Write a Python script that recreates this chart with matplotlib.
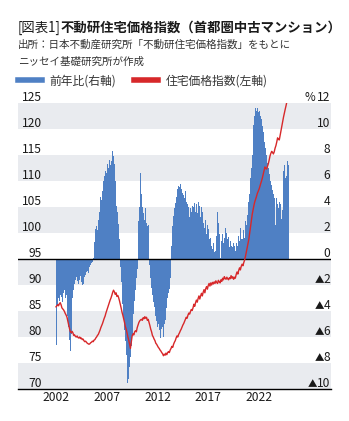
import matplotlib
matplotlib.use("Agg")
import matplotlib.pyplot as plt
from matplotlib.lines import Line2D
import matplotlib.transforms as mtransforms
import numpy as np

plt.rcParams['font.family'] = ['Noto Sans CJK JP', 'DejaVu Sans']

# ---------------- data (monthly, 2002-01 .. 2024-12) ----------------
year_ticks = ["2002", "2007", "2012", "2017", "2022"]

# 前年比 (%), right axis
yoy = [
    -7.4, -6.6, -3.6, -3.0, -3.2, -2.8, -3.1, -2.9, -3.3, -2.6, -2.4, -3.0,   # 2002
    -2.8, -3.5, -4.4, -5.2, -6.2, -7.1, -5.8, -4.3, -3.0, -2.4, -1.9, -1.6,   # 2003
    -1.4, -1.7, -1.5, -1.9, -1.6, -1.3, -1.8, -2.0, -1.7, -1.9, -1.4, -1.2,   # 2004
    -1.0, -0.9, -1.1, -0.7, -0.6, -0.5, -0.3, -0.2, 0.1, 0.5, 1.3, 2.3,       # 2005
    2.5, 2.2, 3.0, 3.6, 4.3, 4.8, 4.5, 5.2, 6.0, 6.4, 6.1, 6.8,               # 2006
    6.6, 7.3, 7.0, 7.6, 7.2, 7.8, 7.5, 8.3, 7.9, 7.3, 6.0, 5.0,               # 2007
    4.1, 3.6, 2.7, 1.5, -0.6, -1.8, -2.8, -3.5, -4.6, -5.5, -6.3, -7.4,       # 2008
    -8.6, -9.5, -9.2, -8.3, -7.5, -6.7, -5.8, -5.0, -4.2, -3.2, -2.4, -1.5,   # 2009
    -0.8, 1.2, 2.9, 4.0, 6.6, 5.0, 4.0, 3.5, 3.6, 3.0, 3.9, 2.8,              # 2010
    2.5, 2.6, 1.5, -0.5, -1.5, -2.2, -2.8, -3.3, -3.7, -4.0, -4.4, -4.8,      # 2011
    -5.2, -5.0, -5.5, -5.3, -6.1, -5.4, -5.2, -6.0, -5.0, -4.7, -4.2, -3.8,   # 2012
    -3.0, -2.6, -2.3, -1.5, -0.6, 1.0, 2.5, 3.3, 3.9, 4.3, 4.8, 5.2,          # 2013
    5.4, 5.6, 5.5, 5.75, 5.4, 5.5, 5.1, 4.9, 4.7, 5.2, 4.4, 4.2,              # 2014
    3.4, 4.0, 3.2, 3.9, 3.6, 4.1, 2.9, 4.0, 4.3, 3.6, 4.2, 3.5,               # 2015
    4.4, 3.8, 4.1, 3.2, 4.0, 3.6, 2.8, 3.2, 2.4, 3.0, 1.9, 2.6,               # 2016
    2.3, 1.5, 3.6, 1.6, 1.0, 0.8, 1.2, 0.5, -0.5, 0.6, 1.8, 3.6,              # 2017
    2.8, 1.9, 0.1, 1.7, 1.4, 1.9, 1.2, 1.6, 2.4, 1.7, 2.0, 1.5,               # 2018
    1.7, 0.9, 1.4, 1.0, 1.5, 0.9, 1.2, 1.0, 0.6, 1.2, 0.2, 1.0,               # 2019
    1.8, 1.4, 2.4, 1.5, 2.0, 1.5, 2.2, 1.6, 2.9, 2.6, 3.4, 3.9,               # 2020
    4.4, 5.0, 6.2, 7.0, 8.0, 9.3, 10.3, 11.0, 11.6, 11.4, 11.6, 11.3,         # 2021
    11.5, 11.4, 11.0, 10.8, 10.2, 9.8, 9.4, 9.0, 8.5, 8.0, 7.4, 7.0,          # 2022
    6.5, 6.2, 6.0, 5.7, 5.3, 5.0, 4.7, 3.7, 2.6, 4.7, 4.2, 3.9,               # 2023
    4.4, 4.2, 3.6, 3.1, 3.8, 6.8, 7.2, 6.2, 6.0, 6.4, 7.5, 7.2,               # 2024
]

# 住宅価格指数, left axis
index = [
    85.8, 86.0, 86.2, 86.0, 86.4, 86.6, 86.2, 85.6, 85.4, 85.2, 84.9, 84.5,   # 2002
    84.2, 83.8, 83.0, 82.3, 81.6, 81.0, 80.8, 81.1, 80.8, 80.3, 80.4, 80.1,   # 2003
    80.0, 80.2, 79.9, 79.8, 80.0, 79.7, 79.8, 79.5, 79.6, 79.3, 79.1, 79.2,   # 2004
    79.0, 78.8, 78.7, 78.6, 78.7, 78.9, 79.0, 79.2, 79.1, 79.4, 79.5, 79.8,   # 2005
    80.0, 80.3, 80.5, 80.9, 81.3, 81.8, 82.2, 82.6, 83.1, 83.6, 84.0, 84.6,   # 2006
    85.1, 85.6, 86.1, 86.6, 87.1, 87.5, 88.0, 88.6, 89.0, 88.7, 88.2, 88.5,   # 2007
    87.8, 88.0, 87.6, 87.0, 86.3, 85.6, 84.8, 84.2, 83.5, 82.8, 82.0, 81.5,   # 2008
    80.8, 80.0, 79.4, 78.6, 77.8, 79.0, 80.2, 80.6, 80.4, 81.0, 81.2, 81.0,   # 2009
    81.8, 82.3, 82.8, 83.1, 83.3, 83.4, 83.2, 83.7, 83.5, 83.9, 83.6, 83.8,   # 2010
    83.2, 83.4, 82.8, 82.2, 81.5, 81.0, 80.3, 80.0, 79.6, 79.3, 78.8, 78.6,   # 2011
    78.3, 78.0, 77.8, 77.5, 77.3, 77.0, 76.8, 76.4, 76.7, 76.5, 76.9, 76.6,   # 2012
    77.0, 77.2, 77.0, 77.5, 77.8, 78.2, 78.0, 78.6, 79.0, 79.3, 79.8, 80.2,   # 2013
    80.0, 80.5, 80.8, 81.2, 81.5, 81.9, 82.3, 82.6, 83.0, 83.4, 83.8, 83.6,   # 2014
    84.2, 84.6, 84.4, 84.9, 85.3, 85.1, 85.6, 86.3, 85.9, 86.6, 87.1, 86.7,   # 2015
    87.4, 87.9, 87.3, 87.9, 88.4, 87.9, 88.6, 89.1, 88.5, 89.3, 89.7, 89.2,   # 2016
    89.9, 90.3, 89.8, 90.4, 90.0, 90.5, 90.2, 90.6, 90.3, 90.8, 90.5, 90.3,   # 2017
    90.9, 90.6, 90.4, 91.0, 90.7, 91.3, 91.0, 91.6, 91.3, 91.1, 91.5, 91.2,   # 2018
    91.0, 91.4, 91.2, 91.8, 91.3, 91.6, 91.1, 91.5, 91.3, 92.0, 92.5, 92.1,   # 2019
    92.8, 93.3, 92.9, 93.6, 94.0, 93.7, 94.3, 94.8, 95.5, 96.3, 97.0, 97.8,   # 2020
    98.8, 100.0, 101.2, 102.5, 103.6, 104.5, 105.3, 106.0, 106.5, 107.0, 107.6, 108.0,  # 2021
    108.4, 108.9, 109.5, 110.0, 110.6, 111.3, 112.0, 112.7, 112.4, 112.3, 112.8, 113.3,  # 2022
    114.0, 114.8, 115.3, 115.7, 115.5, 115.2, 115.6, 116.3, 116.8, 117.5, 118.3, 118.0,  # 2023
    117.9, 118.8, 119.8, 120.6, 121.5, 122.3, 123.1, 123.8, 124.5, 125.3, 126.0, 126.8,  # 2024
]

left_ticks = [70, 75, 80, 85, 90, 95, 100, 105, 110, 115, 120, 125]
right_ticks = [-10, -8, -6, -4, -2, 0, 2, 4, 6, 8, 10, 12]
right_labels = ["10", "8", "6", "4", "2", "0", "2", "4", "6", "8", "10", "12"]

# ---------------- styles ----------------
BLUE = "#4f80c4"
RED = "#d7282a"
BAND = "#e9ebef"
TXT = "#1a1a1a"

W, H = 349, 421
fig = plt.figure(figsize=(W / 100, H / 100), dpi=100)

L, R, T, B = 18, 331, 103, 389
ax = fig.add_axes([L / W, 1 - B / H, (R - L) / W, (B - T) / H])

x = np.arange(len(yoy))
x0 = (L - 56) / 0.8458
x1 = (R - 56) / 0.8458
ax.set_xlim(x0, x1)
ax.set_ylim(right_ticks[0], right_ticks[-1])

# alternating bands
for k in range(0, len(right_ticks) - 1):
    if k % 2 == 0:
        ax.axhspan(right_ticks[k], right_ticks[k + 1], color=BAND, lw=0, zorder=0)

ax.bar(x, yoy, width=1.0, color=BLUE, lw=0, zorder=2)
ax.axhline(0, color="black", lw=1.0, zorder=3)

for s in ["top", "left", "right"]:
    ax.spines[s].set_visible(False)
ax.spines["bottom"].set_color("black")
ax.spines["bottom"].set_linewidth(1.0)
ax.spines["bottom"].set_zorder(4)

ax.set_yticks([])
ax.set_xticks([0, 60, 120, 180, 240])
ax.set_xticklabels(year_ticks, fontsize=8.7, color=TXT)
ax.tick_params(axis="x", length=0, pad=1.5)

ax2 = ax.twinx()
ax2.set_ylim(left_ticks[0], left_ticks[-1])
ax2.plot(x, index, color=RED, lw=1.0, zorder=5)
ax2.set_yticks([])
for s in ax2.spines.values():
    s.set_visible(False)
ax2.set_xlim(x0, x1)

# tick labels inside the plot, sitting on the gridlines
off = mtransforms.ScaledTranslation(0, 2 / 100, fig.dpi_scale_trans)
trL = mtransforms.blended_transform_factory(ax2.transAxes, ax2.transData) + off
trR = mtransforms.blended_transform_factory(ax.transAxes, ax.transData) + off
xl = (42 - L) / (R - L)
xr = (330 - L) / (R - L)
for v in left_ticks:
    ax2.text(xl, v, str(v), transform=trL, ha="right", va="baseline",
             fontsize=8.7, color=TXT, zorder=6)
num_texts = []
for v, s in zip(right_ticks, right_labels):
    t = ax.text(xr, v, s, transform=trR, ha="right", va="baseline",
                fontsize=8.7, color=TXT, zorder=6)
    num_texts.append((v, t))

fig.canvas.draw()
renderer = fig.canvas.get_renderer()
for v, t in num_texts:
    bb = t.get_window_extent(renderer)
    xa = ax.transAxes.inverted().transform((bb.x0 + 0.5, 0))[0]
    if v < 0:
        ax.text(xa, v, "▲", transform=trR, ha="right", va="baseline",
                fontsize=6.8, color=TXT, zorder=6)
    elif v == right_ticks[-1]:
        ax.text(xa - 0.006, v, "%", transform=trR, ha="right", va="baseline",
                fontsize=8.3, color=TXT, zorder=6)

# ---------------- title / notes ----------------
t1 = fig.text(18 / W, 1 - 28 / H, "[図表1]", fontsize=9.6, color=TXT,
              ha="left", va="center")
fig.canvas.draw()
bb = t1.get_window_extent()
fig.text(bb.x1 / W, 1 - 28 / H, "不動研住宅価格指数（首都圏中古マンション）",
         fontsize=9.6, fontweight="bold", color=TXT, ha="left", va="center")
fig.text(18 / W, 1 - 45 / H, "出所：日本不動産研究所「不動研住宅価格指数」をもとに",
         fontsize=7.6, color="#333333", ha="left", va="center")
fig.text(18 / W, 1 - 62 / H, "ニッセイ基礎研究所が作成",
         fontsize=7.6, color="#333333", ha="left", va="center")

handles = [Line2D([], [], color=BLUE, lw=4), Line2D([], [], color=RED, lw=4)]
fig.legend(handles, ["前年比(右軸)", "住宅価格指数(左軸)"], loc="center left",
           bbox_to_anchor=(18 / W, 1 - 81 / H), ncol=2, frameon=False,
           fontsize=8.5, handlelength=2.0, handletextpad=0.7, columnspacing=1.5,
           borderpad=0, borderaxespad=0, labelcolor="#333333")

fig.savefig("out.png", dpi=100)
